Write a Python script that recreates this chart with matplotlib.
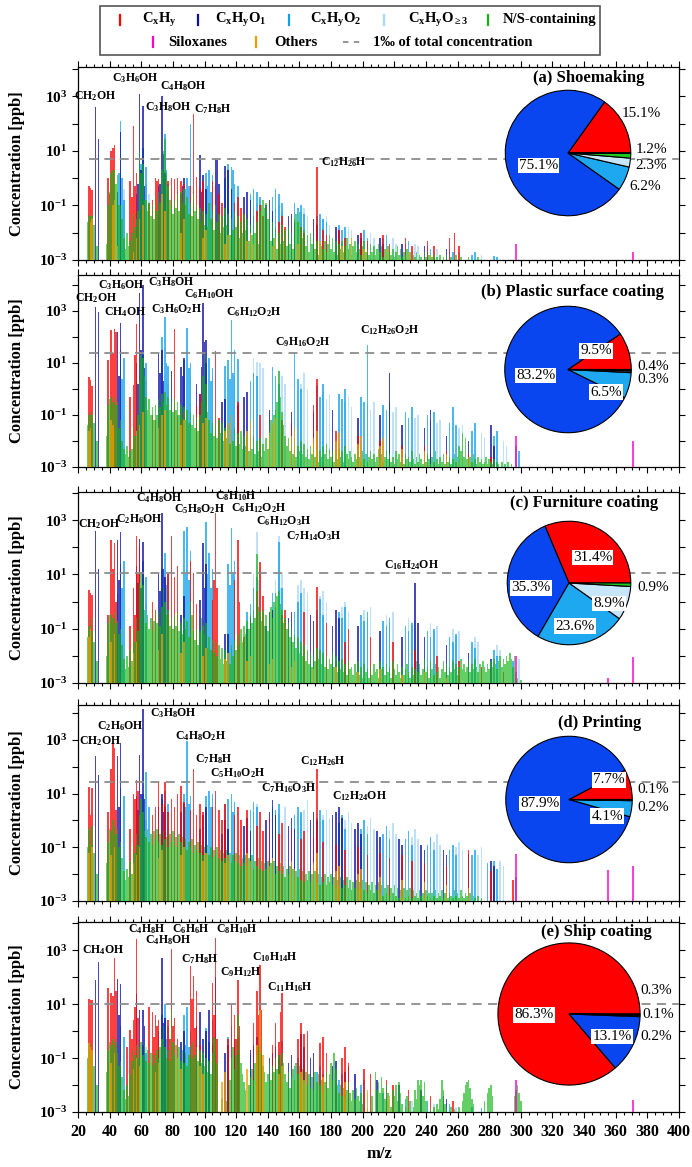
import math
import matplotlib
matplotlib.use("Agg")
import matplotlib.pyplot as plt
from matplotlib.patches import Rectangle
from matplotlib.lines import Line2D
from matplotlib.ticker import FixedLocator, MultipleLocator, NullLocator, FuncFormatter

plt.rcParams["font.family"] = ["Liberation Serif", "DejaVu Serif"]
plt.rcParams["font.weight"] = "bold"
plt.rcParams["mathtext.fontset"] = "custom"
plt.rcParams["mathtext.rm"] = "Liberation Serif:bold"
plt.rcParams["mathtext.it"] = "Liberation Serif:italic:bold"
plt.rcParams["mathtext.bf"] = "Liberation Serif:bold"

# ---------------------------------------------------------------------------
# Data: (m/z, log10 concentration in ppb) per compound class and source.
# N/S-containing ions are listed for every integer m/z starting at NS_START
# (None = no ion at that mass).
# ---------------------------------------------------------------------------
NS_START = 26
SOURCES = ["(a) Shoemaking", "(b) Plastic surface coating", "(c) Furniture coating",
           "(d) Printing", "(e) Ship coating"]
CLASSES = ["CxHy", "CxHyO1", "CxHyO2", "CxHyO>=3", "N/S-containing", "Siloxanes", "Others"]

# (a) Shoemaking
A_CXHY = [(27, -0.3), (28, -0.35), (29, -0.45), (39, 0.0), (40, -0.6), (41, 1.0), (42, 1.1), (43, 1.2),
          (53, -0.1), (54, -0.7), (55, 1.9), (56, -0.3), (57, 0.2), (65, -0.9), (67, -0.8), (69, 0.0),
          (70, -0.1), (71, -0.05), (77, -0.1), (79, 0.0), (81, -0.05), (83, 0.0), (85, -0.1), (87, -0.2),
          (91, -0.3), (93, 2.35), (95, 0.05), (97, -0.4), (99, -0.1), (105, -0.1), (107, -0.3), (109, -0.6),
          (111, -0.9), (119, -0.9), (121, -0.7), (123, -1.1), (125, -1.3), (133, -1.2), (135, -1.0),
          (137, -1.4), (147, -1.6), (149, -1.4), (151, -1.8), (161, -1.8), (163, -2.0), (171, 0.42),
          (175, -1.9), (177, -2.1), (185, -1.9), (189, -2.2), (199, -2.0), (203, -2.3), (213, -2.1),
          (217, -2.4), (227, -2.2), (231, -2.5), (241, -2.3), (245, -2.5), (255, -2.2), (258, -2.0),
          (261, -2.5)]
A_O1 = [(31, 2.6), (33, 1.45), (45, -0.5), (47, 1.7), (57, -0.6), (58, -0.2), (59, 3.07), (60, 0.3),
        (61, 2.64), (62, -0.3), (71, -0.3), (72, -0.2), (73, 3.0), (74, 0.9), (75, 0.2), (85, -0.6),
        (86, -0.3), (87, 0.0), (97, 0.85), (98, -0.5), (99, 0.1), (101, -0.4), (107, 0.7), (108, 0.65),
        (109, -0.2), (113, 0.45), (115, 0.3), (117, -0.4), (125, -0.7), (127, -0.5), (129, -0.8),
        (139, -1.0), (141, -0.8), (143, -1.2), (153, -1.4), (155, -1.3), (157, -1.6), (169, -1.5),
        (171, -1.7), (183, -1.8), (185, -1.9), (197, -2.1), (199, -2.2), (211, -2.2), (213, -2.4),
        (225, -2.4), (239, -2.5), (253, -2.6)]
A_O2 = [(46, 0.2), (47, 2.1), (48, 0.0), (49, -0.8), (60, 0.5), (61, 1.1), (63, 0.4), (74, 0.8), (75, 1.6),
        (76, 0.3), (77, -0.2), (88, -0.4), (89, 0.0), (90, -0.3), (91, 2.0), (101, 0.2), (102, -0.3),
        (103, 0.3), (104, -0.5), (105, 0.1), (113, 0.0), (115, 0.5), (117, 0.4), (118, 0.3), (119, -0.2),
        (121, -0.3), (129, -0.6), (131, -0.4), (133, -0.5), (135, -0.7), (143, -0.7), (145, -0.4),
        (147, -0.6), (149, -0.9), (157, -0.9), (159, -1.1), (161, -1.0), (163, -1.3), (171, -1.4),
        (173, -1.3), (175, -1.5), (177, -1.6), (185, -1.7), (187, -1.9), (189, -1.8), (199, -2.0),
        (201, -1.9), (203, -2.2), (213, -2.2), (215, -2.1), (227, -2.4), (229, -2.3), (241, -2.5),
        (243, -2.6), (255, -2.6), (257, -2.7), (269, -2.8), (271, -2.7), (283, -2.85), (285, -2.9)]
A_O3 = [(49, -0.4), (63, -0.2), (65, -0.6), (77, -0.5), (79, -0.7), (91, -0.7), (93, -0.9), (105, -0.4),
        (107, -0.8), (119, -0.8), (121, -1.0), (131, -0.9), (133, -0.95), (135, -0.8), (145, -1.1),
        (147, -1.0), (149, -1.2), (161, -1.2), (163, -1.1), (165, -1.4), (175, -1.5), (177, -1.4),
        (179, -1.7), (191, -1.8), (193, -1.9), (205, -2.0), (207, -2.2), (219, -2.2), (221, -2.4),
        (233, -2.4), (235, -2.5), (247, -2.6), (261, -2.7), (275, -2.8)]
A_NS = [-1.6, -1.4, -1.3, -1.4, -1.7, None, -2.5, None, None, None,
        None, None, -2.4, -1.0, -0.5, 0.2, 0.3, 0.3, -0.2, 0.1,
        -1.0, -1.0, -1.5, -2.2, -2.6, -2.0, -2.5, -2.3, -2.0, -1.3,
        -1.8, -1.5, -1.2, 1.0, 0.2, 0.5, -0.8, -0.8, -1.2, -0.9,
        -1.4, -1.0, -1.5, -0.7, -1.2, -0.5, -0.9, 0.3, 1.0, 1.45,
        0.2, -0.3, -0.8, -1.0, -1.3, -0.8, -1.1, -0.6, -1.2, -0.5,
        -0.9, -0.4, -1.0, -0.7, -1.3, -0.9, -1.4, -0.6, -1.2, -1.0,
        -1.5, -1.1, -1.6, -1.2, -1.7, -1.3, -1.8, -0.9, -1.5, -1.2,
        -1.9, -1.0, -1.6, -1.3, -2.0, -1.4, -1.8, -1.1, -1.7, -1.3,
        -2.1, -1.5, -1.9, -1.2, -1.8, -1.4, -2.2, -1.6, -2.0, -1.3,
        -1.9, -1.5, -2.3, -1.7, -2.1, -1.4, -2.0, -1.6, -2.4, -1.2,
        -1.0, -0.8, -1.1, -0.9, -1.5, -1.2, -2.3, -1.6, -2.2, -1.8,
        -2.6, -2.0, -2.4, -1.7, -2.3, -1.9, -2.5, -1.8, -2.4, -2.0,
        -2.6, -1.5, -1.3, -1.6, -1.25, -1.8, -2.2, -1.9, -2.5, -2.1,
        -2.7, -2.0, -2.4, -2.2, -2.6, -2.3, -2.8, -2.4, -2.5, -2.6,
        -2.3, -2.7, -2.4, -2.1, -2.6, -2.2, -2.7, -2.3, -2.8, -2.4,
        -2.6, -2.3, -2.7, -2.5, -2.2, -2.6, -2.4, -2.8, -2.5, -2.3,
        -2.7, -2.4, -2.6, -2.8, -2.5, -2.3, -2.7, -2.6, -2.8, -2.4,
        -2.7, -2.5, -2.8, -2.6, -2.4, -2.7, -2.5, -2.9, -2.6, -2.8,
        -2.5, -2.7, -2.8, -2.6, -2.9, -2.7, -2.5, -2.8, -2.6, -2.9,
        -2.7, -2.8, -2.6, -2.9, -2.7, None, -2.8, -2.9, -2.7, None,
        -2.8, -2.9, None, -2.7, -2.9, None, -2.8, None, -2.9, -2.8,
        None, -2.9, None, -2.8, None, -2.9, None, -2.8, None, None,
        -2.9, None, None, -2.8, None, None, -2.9, None, None, None,
        None, -2.9, None, None, None, None, None, -2.9, None, None]
A_OTH = [(28, -1.6), (29, -1.5), (42, -1.0), (43, -0.8), (45, -2.5), (55, -2.7), (57, -2.2), (59, -1.5),
         (61, -1.0), (73, -0.6), (75, -1.2), (85, -2.0), (87, -1.5), (99, -2.2), (101, -1.9), (113, -2.4),
         (115, -2.1), (127, -2.3), (129, -2.0), (131, -2.4), (143, -2.5), (145, -2.2), (159, -2.4),
         (173, -2.3), (187, -2.5), (193, -2.2), (201, -2.6), (215, -2.6), (229, -2.7), (243, -2.8)]
A_SIL = [(297, -2.4), (371, -2.7)]

# (b) Plastic surface coating
B_CXHY = [(27, 0.45), (28, 0.35), (29, 0.1), (39, 1.1), (41, 2.25), (42, 1.4), (43, 2.3), (44, 2.2),
          (53, -0.3), (55, 0.15), (56, 1.3), (57, 2.5), (67, -1.0), (69, -1.2), (71, -1.1), (81, 2.3),
          (83, -1.0), (85, -1.2), (87, -0.9), (95, -0.6), (97, -0.2), (107, 1.45), (109, -1.1),
          (121, -0.5), (135, -1.0), (149, -1.2), (155, -1.3), (169, -0.6), (171, 0.4), (183, -1.6),
          (197, -1.8), (211, -2.0), (225, -2.2), (239, -2.2), (253, -2.4), (267, -2.5), (281, -2.6)]
B_O1 = [(31, 3.15), (33, 2.95), (45, 2.2), (46, 0.5), (47, 2.55), (57, 1.0), (58, 0.2), (59, 3.67),
        (60, 1.5), (61, 3.98), (62, 0.8), (71, 1.4), (72, 0.6), (73, 1.5), (74, 0.3), (79, 0.7),
        (85, 0.85), (86, 0.5), (87, 1.2), (95, 0.2), (97, -0.2), (98, 0.85), (99, 3.3), (100, 1.8),
        (101, 1.9), (111, -0.5), (113, -0.4), (121, -0.6), (125, -0.3), (127, -0.1), (141, -0.8),
        (155, -0.9), (169, -0.9), (181, -0.8), (197, -1.1), (211, -1.0), (217, 0.6), (225, -1.4),
        (239, -1.5), (243, -0.8), (253, -1.8), (267, -2.0), (281, -1.4), (283, -2.2)]
B_O2 = [(47, 1.5), (48, 0.4), (49, 1.2), (61, 1.3), (63, 1.0), (73, 2.0), (75, 2.75), (76, 1.0), (77, 0.9),
        (87, 1.1), (89, 2.35), (90, 0.8), (91, 1.0), (101, 1.0), (103, 1.2), (104, 0.3), (105, 0.8),
        (113, 0.9), (115, 1.1), (116, 0.4), (117, 2.65), (118, 0.6), (119, 1.5), (121, 1.17), (129, 0.3),
        (131, 0.6), (133, 0.5), (143, 0.85), (145, 0.5), (147, 0.2), (157, 1.4), (159, 0.4), (161, 0.0),
        (171, 0.1), (173, -0.3), (175, 0.2), (185, -0.2), (187, -0.4), (189, 0.0), (199, -0.3),
        (201, -0.5), (203, 1.7), (213, -0.6), (215, -0.8), (217, -0.5), (227, -0.9), (229, -1.1),
        (231, -0.7), (241, -1.0), (243, -1.2), (245, -0.9), (255, -1.3), (257, -0.7), (259, -1.4),
        (269, -1.6), (271, -1.3), (283, -1.8), (285, -1.6), (297, -2.2), (299, -2.4)]
B_O3 = [(63, 0.3), (77, 0.2), (91, 0.4), (105, 0.6), (119, 0.5), (131, 1.2), (133, 1.05), (135, 1.0),
        (137, 0.8), (147, 0.7), (149, 0.5), (151, 0.2), (161, 0.2), (163, 0.6), (165, 0.0), (175, -0.1),
        (177, -0.4), (179, -0.2), (189, -0.5), (191, -0.3), (193, -0.7), (203, -0.6), (205, -0.8),
        (207, -0.5), (219, -0.9), (221, -0.7), (233, -1.1), (235, -1.0), (247, -1.3), (249, -1.2),
        (261, -1.5), (263, -1.4), (275, -1.7), (277, -1.9), (289, -2.0), (291, -2.2)]
B_NS = [-1.4, -1.0, -0.9, -1.0, -1.3, None, -2.0, None, None, None,
        None, None, -1.8, -0.6, -0.4, -0.3, -0.5, -0.3, -0.6, -0.5,
        -1.5, -1.2, -2.0, -2.3, -2.5, -2.2, -2.6, -2.4, -2.3, -1.5,
        -1.8, -1.6, -1.0, 0.3, 1.3, 1.2, 0.5, -0.3, -0.8, -0.4,
        -1.0, -0.7, -1.2, -0.6, -1.0, -0.4, -0.7, -0.2, -0.5, -0.1,
        -0.6, -0.3, -0.8, -0.5, -0.9, -0.4, -0.8, -0.5, -1.0, -0.6,
        -1.1, -0.7, -1.2, -0.8, -1.3, -0.9, -1.4, -1.0, -1.5, -1.1,
        -1.6, -1.0, -0.5, 0.5, 1.35, 0.2, -0.9, -1.2, -1.7, -1.3,
        -1.8, -1.4, -1.9, -1.2, -1.7, -1.3, -2.0, -1.5, -1.9, -1.4,
        -2.1, -1.6, -2.0, -1.5, -2.2, -1.7, -2.1, -1.6, -2.3, -1.8,
        -2.2, -1.7, -2.4, -1.9, -2.3, -1.8, -2.5, -2.0, -2.4, -1.9,
        -2.6, -2.1, -2.4, -1.9, -2.3, -1.6, -1.2, -1.4, -1.0, -0.8,
        -0.5, 0.7, -0.3, -0.9, -1.4, -1.8, -2.2, -1.9, -2.4, -2.0,
        -2.5, -2.1, -2.6, -2.2, -2.4, -2.0, -2.5, -2.1, -2.6, -2.3,
        -2.7, -2.2, -2.5, -2.1, -2.6, -2.3, -2.8, -2.4, -2.6, -2.2,
        -2.5, -2.1, -2.7, -2.3, -2.6, -2.4, -2.8, -2.5, -2.7, -2.3,
        -2.6, -2.4, -2.8, -2.2, -2.5, -2.7, -2.4, -2.6, -2.8, -2.5,
        -2.7, -2.3, -2.6, -2.8, -2.4, -2.7, -2.5, -2.8, -2.6, -2.4,
        -2.7, -2.5, -2.8, -2.6, -2.3, -2.7, -2.5, -2.8, -2.6, -2.4,
        -2.7, -2.5, -2.8, -2.6, -2.9, -2.4, -2.7, -2.5, -2.8, -2.6,
        -2.9, -2.5, -2.7, -2.6, -2.8, -2.4, -2.7, -2.9, -2.6, -2.8,
        -2.5, -2.7, -2.9, -2.6, -2.8, -2.5, -2.7, -2.9, -2.6, -2.8,
        -2.4, -2.7, -2.9, -2.6, -2.8, -2.5, -2.9, -2.7, -2.8, -2.6,
        -2.9, -2.7, -2.5, -2.8, -2.6, -2.2, -2.4, -1.7, -2.6, -1.9,
        -2.7, -2.9, -2.6, -2.8, -2.5, -2.7, -2.9, -2.6, -2.8, -2.7,
        -2.9, -2.8, -2.6, -2.9, -2.7, -2.8, -2.9, -2.7, None, -2.8,
        -2.9, None, -2.8, None, -2.9, None, -2.8, None, -2.9, None]
B_OTH = [(27, -1.6), (28, -1.5), (41, -1.2), (42, -1.4), (57, -1.6), (59, -1.4), (61, -0.9), (71, -1.5),
         (73, -1.0), (75, -0.8), (85, -1.4), (87, -1.2), (99, -1.3), (101, -1.1), (113, -1.6), (115, -1.3),
         (117, -1.0), (127, -1.6), (129, -1.2), (141, -1.7), (143, -1.3), (145, -1.1), (155, -1.8),
         (157, -1.5), (169, -1.9), (171, -1.6), (183, -2.0), (185, -1.7), (197, -2.1), (199, -1.8),
         (211, -2.2), (213, -1.9), (225, -2.3), (239, -2.4), (253, -2.5), (267, -2.6)]
B_SIL = [(297, -1.8), (371, -2.0)]

# (c) Furniture coating
C_CXHY = [(27, 0.43), (28, 0.3), (29, 0.25), (39, -0.5), (41, 2.27), (42, 1.2), (43, 2.15), (44, 0.0),
          (53, -0.9), (55, 0.5), (56, -0.5), (57, 2.4), (58, 1.0), (59, 2.05), (67, 0.0), (69, -0.3),
          (71, -0.5), (77, 1.0), (79, 2.4), (81, 0.9), (83, 1.3), (91, 1.5), (93, 1.05), (95, -0.1),
          (105, 0.06), (106, 0.8), (107, 3.25), (108, 0.5), (119, 0.8), (121, 2.27), (122, 0.0),
          (125, -1.3), (133, 0.4), (135, 1.47), (137, 0.2), (149, -0.5), (151, -0.3), (163, -0.4),
          (171, 0.55), (177, -0.8), (189, -1.5), (191, -1.0), (205, -1.3), (219, -1.5), (233, -1.8),
          (247, -2.0), (261, -2.2), (275, -2.4), (289, -2.6)]
C_O1 = [(31, 2.6), (33, 1.2), (45, 2.27), (46, 0.8), (47, 2.55), (57, 1.3), (58, 0.7), (59, 2.3), (60, 0.5),
        (61, 2.2), (71, 1.0), (72, 0.4), (73, 3.25), (74, 1.2), (75, 0.9), (85, -0.5), (87, 0.2),
        (97, 0.06), (99, 2.15), (100, 0.5), (101, 1.4), (113, -1.2), (115, -1.2), (127, -1.0), (129, -0.6),
        (139, -0.9), (141, -0.4), (143, -0.3), (153, -0.6), (155, -0.4), (167, -0.5), (169, -0.7),
        (181, -0.9), (183, -0.3), (185, -0.6), (197, -0.9), (211, -1.1), (225, -1.3), (233, 0.7),
        (235, -0.8), (239, -1.3), (253, -1.6), (267, -1.9), (281, -2.1)]
C_O2 = [(45, 0.3), (47, 1.4), (48, 0.5), (49, 1.5), (59, 0.8), (61, 1.5), (63, 0.9), (73, 1.2), (75, 1.8),
        (76, 0.6), (77, 1.0), (87, 2.6), (88, 1.0), (89, 2.75), (90, 0.8), (91, 1.85), (101, 2.95),
        (102, 1.0), (103, 1.8), (104, 0.5), (105, 1.2), (115, 1.4), (116, 0.6), (117, 2.7), (118, 1.0),
        (119, 1.5), (127, -0.4), (129, -0.1), (131, 0.5), (133, 0.9), (143, 0.3), (145, -0.2), (147, 2.2),
        (149, 0.5), (157, -0.4), (159, 0.0), (161, 0.3), (171, -0.3), (173, 0.1), (175, -0.5), (185, -0.4),
        (187, -0.6), (189, -0.2), (199, -0.5), (201, -0.7), (203, -0.4), (213, -0.7), (215, -0.9),
        (217, -0.6), (227, -0.9), (229, -1.1), (231, -0.8), (241, -1.1), (243, -1.3), (245, -1.0),
        (255, -1.3), (257, -1.5), (259, -1.2), (269, -1.5), (271, -1.7), (283, -1.8), (285, -2.0),
        (295, -2.2)]
C_O3 = [(63, 0.0), (77, 0.3), (91, 0.5), (105, 0.7), (119, 0.9), (131, 1.0), (133, 2.57), (134, 0.8),
        (135, 1.2), (145, 0.8), (147, 2.4), (148, 0.5), (149, 1.0), (159, 0.6), (161, 0.8), (163, 0.5),
        (165, 0.3), (173, 0.2), (175, 0.4), (177, 0.0), (187, -0.2), (189, 0.0), (191, -0.4), (201, -0.3),
        (203, -0.6), (205, -0.2), (215, -0.5), (217, -0.8), (219, -0.4), (229, -0.6), (231, -0.9),
        (233, -0.7), (243, -0.8), (245, -1.1), (247, -0.9), (257, -1.0), (259, -1.3), (261, -1.1),
        (271, -1.3), (273, -1.5), (285, -1.6), (287, -1.8), (299, -2.1)]
C_NS = [-1.3, -0.9, -0.6, -1.1, -1.5, None, -2.2, None, None, None,
        None, None, -2.0, -0.8, -0.5, -0.5, -0.6, -0.4, -0.8, -0.7,
        -1.2, -1.0, -1.6, -2.1, -2.5, -2.0, -2.4, -1.8, -2.2, -1.0,
        -1.5, -0.6, -1.1, 0.7, 1.1, 0.6, -0.3, -0.8, -0.5, -1.0,
        -0.6, -1.1, -0.7, -0.3, -0.8, -0.4, -0.9, -0.2, 0.5, 0.0,
        -0.5, -0.3, -0.9, -0.6, -1.0, -0.5, -0.9, -0.4, -1.1, -0.8,
        -1.2, -0.6, -1.0, -0.7, -1.3, 0.0, -0.5, -1.1, -1.4, -1.0,
        -1.6, -1.1, -0.6, -0.9, -1.2, -0.8, -1.7, -1.3, -1.8, -1.4,
        -1.9, -1.5, -2.0, -1.6, -2.1, -1.7, -2.3, -1.8, -2.2, -1.9,
        -2.3, -1.6, -2.0, -1.4, -1.8, -1.2, -1.6, -1.0, -1.5, -0.9,
        -1.2, -0.7, -1.0, -0.5, -0.8, -0.3, -0.6, 1.77, -0.2, -0.4,
        -0.7, -0.3, -0.9, -0.5, -1.1, -0.4, -0.2, -0.6, 0.0, 0.3,
        0.2, 0.4, -0.1, -0.3, -0.8, -0.6, -1.0, -0.8, -1.3, -1.0,
        -1.5, -1.2, -1.7, -1.3, -1.9, -1.5, -2.0, -1.6, -2.2, -1.8,
        -2.3, -1.9, -2.4, -2.0, -2.2, -1.7, -2.1, -1.8, -2.3, -1.9,
        -2.4, -2.0, -2.5, -2.1, -2.3, -1.9, -2.4, -2.0, -2.6, -2.2,
        -2.5, -2.1, -2.6, -2.3, -2.7, -2.2, -2.5, -2.4, -2.7, -2.3,
        -2.6, -2.2, -2.7, -2.4, -2.8, -2.3, -2.6, -2.5, -2.8, -2.4,
        -2.7, -2.3, -2.6, -2.5, -2.8, -2.2, -2.5, -2.4, -2.7, -2.3,
        -2.6, -2.4, -2.8, -2.2, -2.5, -2.7, -2.3, -2.6, -2.8, -2.4,
        -2.7, -2.5, -2.3, -2.6, -2.8, -2.4, -2.7, -2.5, -2.2, -2.6,
        -2.3, -2.7, -2.5, -2.1, -2.6, -2.4, -2.8, -2.2, -2.5, -2.7,
        -2.3, -2.6, -2.4, -2.8, -2.5, -2.2, -2.6, -2.3, -2.7, -2.4,
        -2.6, -2.2, -2.5, -2.3, -2.7, -2.4, -2.1, -2.5, -2.3, -2.6,
        -2.4, -2.2, -2.6, -2.3, -2.5, -2.1, -2.4, -2.6, -2.3, -2.5,
        -2.2, -2.4, -2.6, -2.3, -2.5, -2.2, -2.4, -2.1, -2.3, -2.5,
        -2.2, -2.0, -2.4, -2.1, -2.3, -2.0, -2.2, -1.9, -2.1, -2.4,
        -2.0, -2.6, -2.8, None, -2.9]
C_OTH = [(27, -1.3), (28, -1.0), (41, -1.5), (43, -1.2), (55, -1.9), (57, -1.5), (71, -1.8), (73, -1.2),
         (85, -1.9), (87, -1.5), (99, -2.0), (101, -1.7), (113, -2.1), (115, -1.9), (127, -2.2), (129, -2.0),
         (141, -2.3), (143, -2.1), (155, -2.4), (157, -2.2), (169, -2.5), (183, -2.4), (197, -2.6),
         (211, -2.5), (225, -2.7), (239, -2.6), (253, -2.8)]
C_SIL = [(297, -2.0), (355, -2.8), (371, -2.05)]

# (d) Printing
D_CXHY = [(27, 1.25), (28, 0.2), (29, 1.2), (39, 0.3), (41, 1.9), (42, 2.9), (43, 2.7), (44, 0.4),
          (53, -0.3), (55, 1.0), (56, 0.8), (57, 1.5), (58, 1.1), (67, 0.2), (69, 0.5), (71, 1.45),
          (73, 0.6), (75, 1.45), (77, 0.3), (79, 0.8), (81, 0.5), (83, 1.0), (85, 1.3), (87, 0.7),
          (91, 0.4), (93, 1.9), (95, 0.2), (97, 0.6), (99, 0.3), (105, 0.5), (107, 1.1), (109, 0.4),
          (111, 0.0), (113, 0.6), (119, 0.2), (121, 0.5), (123, 0.0), (127, 0.4), (133, -0.2), (135, 0.3),
          (137, -0.4), (141, 0.1), (147, -0.5), (149, -0.1), (155, -0.3), (161, -0.7), (163, -0.4),
          (169, -0.6), (171, 1.9), (175, -0.8), (183, -0.9), (189, -1.1), (197, -1.0), (203, -1.3),
          (211, -1.2), (217, -1.4), (225, -1.3), (231, -1.5), (239, -1.6), (253, -1.7), (267, -1.1),
          (281, -1.9), (295, -2.2)]
D_O1 = [(31, 2.4), (33, 1.7), (45, 2.4), (46, 0.5), (47, 2.9), (57, 0.9), (58, 0.4), (59, 2.45), (60, 1.0),
        (61, 4.15), (62, 0.8), (71, 0.5), (73, 1.0), (74, 0.3), (75, 0.5), (85, 0.3), (87, 0.6), (97, -0.3),
        (99, 0.2), (101, 0.5), (111, -0.5), (113, 0.0), (115, -0.3), (125, -0.2), (127, 0.1), (129, -0.4),
        (139, 0.0), (141, 0.3), (143, 0.75), (145, 0.2), (153, -0.2), (155, 0.1), (157, -0.3), (167, 0.0),
        (169, 0.3), (171, 0.0), (181, 0.2), (183, 0.3), (185, 0.5), (187, 0.1), (195, -0.3), (197, -0.1),
        (199, -0.5), (209, -0.4), (211, -0.6), (223, -0.7), (225, -0.9), (237, -0.9), (239, -1.1),
        (251, -1.1), (253, -1.3), (267, -1.25), (281, -1.5), (283, -1.7)]
D_O2 = [(47, 1.2), (49, 0.9), (61, 1.0), (63, 1.8), (65, 0.5), (73, 0.8), (75, 1.1), (77, 0.6), (87, 1.0),
        (88, 0.5), (89, 2.95), (90, 0.6), (91, 0.9), (101, 0.9), (103, 1.1), (104, 0.5), (105, 1.0),
        (113, 0.6), (115, 0.8), (117, 1.0), (118, 0.3), (119, 0.7), (129, 0.4), (131, 0.7), (133, 0.5),
        (143, 0.5), (145, 0.4), (147, 0.6), (157, 0.2), (159, 0.5), (161, 0.3), (171, 0.1), (173, 0.4),
        (175, 0.0), (185, -0.1), (187, 0.2), (189, -0.3), (199, -0.3), (201, 0.0), (203, -0.5), (213, -0.5),
        (215, -0.2), (217, -0.7), (227, -0.7), (229, -0.4), (231, -0.9), (241, -0.9), (243, -0.6),
        (245, -1.1), (255, -1.1), (257, -0.9), (259, -1.3), (269, -1.3), (271, -1.1), (279, -1.6),
        (283, -1.5), (285, -1.8), (297, -2.1)]
D_O3 = [(63, 0.0), (77, 0.3), (91, 0.2), (105, 0.4), (117, 0.3), (119, 0.5), (131, 0.3), (133, 0.6),
        (145, 0.4), (147, 0.2), (151, 0.5), (161, 0.2), (163, 0.4), (165, 0.75), (175, 0.2), (177, 0.4),
        (179, 0.1), (189, 0.0), (191, 0.3), (193, -0.1), (203, -0.2), (205, 0.1), (207, -0.3), (217, -0.4),
        (219, -0.1), (221, -0.5), (231, -0.6), (233, -0.3), (235, -0.7), (245, -0.8), (247, -0.5),
        (249, -0.9), (259, -1.0), (261, -0.8), (263, -1.1), (273, -1.3), (275, -1.0), (287, -1.5),
        (289, -1.7)]
D_NS = [-1.0, -0.3, -0.9, -0.2, -1.2, None, -2.0, None, None, None,
        None, None, -1.6, -0.8, -0.3, -0.4, 0.0, -0.2, -0.5, -0.3,
        -1.0, -0.8, -1.4, -1.9, -2.2, -1.8, -2.1, -1.5, -2.0, -0.9,
        -1.2, -0.5, -0.9, 0.2, 0.8, 0.3, -0.4, -0.6, -0.3, -0.8,
        -0.5, -0.9, -0.4, -0.7, -0.3, -0.8, -0.5, -0.9, -0.4, -0.7,
        -0.6, -1.0, -0.5, -0.8, -0.4, -0.9, -0.6, -1.0, -0.5, -0.8,
        -0.6, -1.0, -0.7, -1.1, -0.8, -1.0, -0.7, -1.2, -0.9, -1.1,
        -0.8, -1.2, -0.9, -1.3, -1.0, -1.2, -0.9, -1.3, -1.0, -1.4,
        -1.1, -1.3, -1.0, -1.4, -1.1, -1.5, -1.2, -1.4, -1.1, -1.5,
        -1.2, -1.6, -1.3, -1.5, -1.2, -1.6, -1.3, -1.7, -1.4, -1.6,
        -1.3, -1.7, -1.4, -1.6, -1.3, -1.8, -1.5, -1.7, -1.4, -1.8,
        -1.5, -1.9, -1.6, -1.8, -1.5, -1.9, -1.6, -1.8, -1.5, -2.0,
        -1.7, -1.9, -1.6, -2.0, -1.7, -2.1, -1.8, -2.0, -1.7, -2.1,
        -1.8, -2.2, -1.9, -2.1, -1.8, -2.2, -1.9, -2.3, -2.0, -2.2,
        -1.9, -2.3, -2.0, -2.2, -1.9, -2.3, -2.0, -2.4, -2.1, -2.3,
        -2.0, -2.4, -2.1, -2.3, -2.0, -2.4, -2.1, -2.5, -2.2, -2.4,
        -2.1, -2.5, -2.2, -2.4, -2.1, -2.5, -2.2, -2.6, -2.3, -2.5,
        -2.2, -2.6, -2.3, -2.5, -2.2, -2.6, -2.3, -2.7, -2.4, -2.6,
        -2.3, -2.7, -2.4, -2.6, -2.3, -2.7, -2.4, -2.8, -2.5, -2.7,
        -2.4, -2.8, -2.5, -2.7, -2.4, -2.8, -2.5, -2.9, -2.6, -2.8,
        -2.5, -2.9, -2.6, -2.8, -2.5, -2.9, -2.6, -2.8, -2.7, -2.9,
        -2.6, -2.8, -2.7, -2.9, -2.6, -2.8, -2.7, -2.9, -2.7, -2.8,
        -2.6, -2.9, -2.7, -2.8, -2.6, -2.9, -2.7, -2.8, -2.9, -2.7,
        -2.8, -2.9, -2.6, -2.8, -2.7, -2.9, -2.6, -2.8, -2.9, -2.7,
        -2.8, -2.9, -2.7, None, -2.8, -2.9, None, -2.8, None, -2.9]
D_OTH = [(27, -1.2), (29, -1.0), (41, -1.3), (43, -1.0), (55, -1.6), (57, -1.3), (59, -1.0), (71, -1.4),
         (73, -1.1), (85, -1.3), (87, -1.0), (99, -1.5), (101, -1.2), (113, -1.6), (115, -1.3), (127, -1.2),
         (129, -1.5), (141, -1.7), (143, -1.4), (155, -1.5), (157, -1.8), (169, -1.6), (171, -1.2),
         (183, -1.9), (185, -1.7), (197, -2.0), (199, -1.8), (211, -2.1), (225, -2.2), (239, -2.3),
         (253, -2.4), (267, -2.5)]
D_SIL = [(297, -1.25), (355, -1.85), (371, -1.7)]

# (e) Ship coating
E_CXHY = [(27, 1.2), (28, 1.15), (29, 1.15), (39, 1.6), (41, 1.4), (42, 1.3), (43, 2.7), (44, 1.5),
          (51, -0.6), (53, 0.05), (54, -0.3), (55, 0.4), (56, 0.9), (57, 3.43), (58, 0.5), (65, 0.9),
          (67, 0.7), (68, -0.2), (69, 0.6), (70, 0.2), (71, 0.4), (77, 0.4), (78, -0.3), (79, 3.06),
          (80, 0.2), (81, 0.5), (83, -0.3), (91, 2.4), (92, 1.2), (93, 2.05), (94, 0.1), (95, 1.5),
          (97, -0.5), (105, 1.77), (106, 0.6), (107, 3.46), (108, -0.3), (115, -0.3), (117, 1.0),
          (119, 0.6), (120, -0.3), (121, 1.9), (122, 0.2), (131, 0.3), (133, 1.5), (134, 0.6), (135, 2.45),
          (136, 0.8), (143, -0.5), (145, 0.3), (147, -0.4), (148, 0.7), (149, 1.4), (159, -0.3), (161, 0.3),
          (163, -0.1), (165, 0.0), (173, -0.45), (175, -0.2), (177, -0.8), (187, -1.0), (189, -0.6),
          (191, -1.2), (201, -1.4), (205, -1.6), (215, -1.8), (219, -2.0), (229, -2.2), (243, -2.4),
          (257, -2.6)]
E_O1 = [(31, 1.9), (33, 2.57), (45, 1.95), (46, 0.6), (47, 1.75), (57, 1.36), (59, 0.8), (61, 0.8),
        (62, 0.2), (71, 0.0), (73, 2.7), (74, 0.3), (75, 0.5), (85, -0.4), (87, 0.0), (95, 0.2), (97, 0.7),
        (99, -0.3), (101, 0.0), (103, 0.8), (105, -0.5), (107, 2.0), (113, -0.8), (115, -0.5), (119, -0.3),
        (121, -0.2), (129, -0.7), (131, -0.5), (133, -0.2), (141, -1.0), (143, -0.8), (145, -0.6),
        (147, -0.9), (153, -1.2), (155, -0.9), (161, -0.1), (163, -0.6), (167, -1.0), (169, -0.8),
        (181, -1.3), (183, -1.1), (189, -1.5), (191, -1.3), (195, -1.6), (209, -1.8), (223, -2.0),
        (237, -2.2), (251, -2.4), (253, -2.5)]
E_O2 = [(47, 0.2), (49, -0.2), (61, -0.5), (63, -0.8), (73, 0.6), (75, 1.0), (76, -0.3), (77, 0.2),
        (87, 0.6), (88, -0.5), (89, 0.9), (90, -0.6), (91, 0.0), (101, 0.1), (103, -0.4), (105, 0.4),
        (115, -0.2), (117, 0.2), (119, -0.6), (129, -0.9), (131, -0.5), (133, -0.7), (135, -0.3),
        (143, -0.9), (145, -0.6), (147, -1.0), (149, -0.35), (157, -1.3), (159, -1.0), (161, -1.2),
        (171, -1.5), (173, -1.3), (175, -1.6), (185, -1.8), (187, -1.6), (199, -2.0), (201, -1.8),
        (213, -2.3), (215, -2.0), (227, -2.5), (241, -2.6), (255, -2.7), (269, -2.8), (275, -2.85)]
E_O3 = [(63, -0.6), (77, -0.3), (91, -0.5), (105, -0.4), (107, -0.9), (119, -0.5), (121, -0.8),
        (133, -0.8), (135, -1.0), (147, -1.2), (149, -1.4), (161, -1.5), (163, -1.3), (175, -1.7),
        (177, -1.9), (189, -2.0), (191, -2.2), (203, -2.3), (217, -2.5), (231, -2.6), (245, -2.7),
        (251, -2.5), (259, -2.8)]
E_NS = [-1.0, -0.5, -0.45, -0.8, -1.3, None, -2.0, None, None, None,
        None, None, -1.5, -0.7, -0.4, -0.5, -0.3, -0.6, -0.4, -0.8,
        -1.3, -1.1, -1.7, -2.2, -2.5, -2.0, -2.4, -1.6, -1.1, -0.7,
        -0.9, -0.5, -1.0, -0.6, -0.4, -0.9, -0.5, -1.1, -0.7, -1.2,
        -0.8, -1.3, -0.9, -1.2, -0.7, -1.0, -0.6, -0.3, 0.2, -0.6,
        -1.0, -0.7, -1.1, 0.8, -0.4, -0.9, -0.5, -1.0, -0.6, -1.1,
        -0.7, -1.2, -0.8, -1.3, -0.9, -0.5, -1.0, -0.4, -0.9, -0.6,
        -1.1, -0.7, -1.2, -0.8, -1.3, -1.0, -1.5, -1.1, -1.6, -0.8,
        -0.2, -0.3, -1.2, None, None, -2.5, None, None, -2.6, None,
        -1.8, -1.0, -0.6, -1.4, -0.9, 0.6, -0.7, -1.2, -1.6, -1.9,
        -2.2, None, -2.0, -1.7, -1.4, -1.8, -1.2, -0.9, -0.6, -0.2,
        -0.8, -1.3, -1.5, -1.9, -1.6, -1.2, -1.8, -1.3, -1.5, -1.0,
        -1.4, -0.9, -1.3, -0.8, -1.2, -1.6, -1.9, -1.5, -2.1, -1.7,
        -1.4, -1.8, -1.2, -1.6, -1.3, -1.7, -1.4, -1.9, -1.5, -2.0,
        -1.6, -2.1, -1.7, -2.2, -1.5, -1.9, -1.6, -2.0, -1.8, -2.3,
        -1.9, -1.5, -2.1, -1.6, -1.2, -1.8, -0.8, -1.4, -2.0, -2.3,
        -2.0, -2.4, -2.1, -2.5, -2.2, -1.9, -2.3, -2.6, -2.2, -2.5,
        -2.1, -2.4, -2.6, -2.3, -2.7, None, None, -2.9, None, None,
        -2.4, None, -1.5, -2.2, -1.9, -2.3, -1.7, -2.1, -2.5, -2.0,
        -2.3, None, -2.8, -2.2, -2.4, -2.0, -2.6, -1.9, -2.3, -2.7,
        None, -2.8, -2.4, -2.9, -2.6, None, -2.8, -2.2, -2.5, -1.8,
        -2.0, -1.8, -2.4, -1.9, -2.6, None, None, -2.9, None, -2.8,
        None, -2.7, -2.9, -2.5, -1.8, -2.2, -2.7, -2.9, None, None,
        -2.8, None, -2.9, None, None, -2.8, None, -2.6, -2.3, -2.0,
        -1.9, -1.8, -2.1, -2.5, -2.7, None, None, None, None, None,
        None, -2.6, None, -2.3, -2.1, -2.0, -2.4, None, None, None,
        None, None, None, None, None, None, None, None, None, None,
        -2.4, -2.2, -2.0, -2.3, -2.6]
E_OTH = [(27, -0.45), (28, -0.6), (29, -0.7), (41, -1.2), (43, -0.8), (55, -1.4), (57, -1.0), (59, -1.3),
         (69, -1.5), (71, -1.2), (83, -1.0), (85, -1.4), (97, -1.3), (99, -1.6), (111, -1.9), (113, -1.5),
         (127, -1.4), (133, -0.5), (135, 0.78), (137, -0.9), (147, -1.6), (149, -1.3), (161, -1.5),
         (163, -1.8), (175, -1.7), (189, -1.9), (203, -2.2), (217, -2.4)]
E_SIL = [(297, -1.8), (371, -2.55)]

# 1 permille of total concentration, log10 ppb
DASH_LEVELS = [0.7, 1.4, 1.04, 1.44, 1.0]

# Class shares (%) in the order CxHy, O1, O2, O>=3, N/S, Siloxanes, Others
PIE_A = [15.1, 75.1, 6.2, 2.3, 1.2, 0.0, 0.1]
PIE_B = [9.5, 83.2, 6.5, 0.4, 0.3, 0.0, 0.1]
PIE_C = [31.4, 35.3, 23.6, 8.9, 0.9, 0.0, 0.0]
PIE_D = [7.7, 87.9, 4.1, 0.1, 0.2, 0.0, 0.0]
PIE_E = [86.3, 13.1, 0.3, 0.1, 0.2, 0.0, 0.0]

# Annotated ions: (formula, m/z of text centre, log10 of text centre)
PEAKS_A = [("CH_2OH", 30.7, 3.0), ("C_3H_6OH", 56, 3.67), ("C_4H_8OH", 86.6, 3.36),
           ("C_3H_8OH", 77, 2.6), ("C_7H_8H", 105, 2.52), ("C_{12}H_{26}H", 188, 0.58)]
PEAKS_B = [("CH_2OH", 31.5, 3.5), ("C_3H_6OH", 47.3, 4.0), ("C_3H_8OH", 79.2, 4.09),
           ("CH_4OH", 49.5, 2.95), ("C_6H_{10}OH", 103, 3.65), ("C_3H_6O_2H", 82.4, 3.07),
           ("C_6H_{12}O_2H", 130.8, 2.97), ("C_9H_{16}O_2H", 162, 1.82), ("C_{12}H_{26}O_2H", 217, 2.27)]
PEAKS_C = [("CH_2OH", 33.5, 2.85), ("C_2H_6OH", 58.7, 3.04), ("C_4H_8OH", 71.5, 3.82),
           ("C_5H_8O_2H", 97, 3.4), ("C_8H_{10}H", 119.5, 3.9), ("C_6H_{12}O_2H", 134, 3.44),
           ("C_6H_{12}O_3H", 150, 2.98), ("C_7H_{14}O_3H", 169, 2.43), ("C_{16}H_{24}OH", 231, 1.35)]
PEAKS_D = [("CH_2OH", 34, 2.94), ("C_2H_6OH", 46.5, 3.52), ("C_3H_8OH", 80, 4.0),
           ("C_4H_8O_2H", 97.7, 3.15), ("C_7H_8H", 106, 2.28), ("C_5H_{10}O_2H", 121, 1.75),
           ("C_7H_{16}O_3H", 153.5, 1.22), ("C_{12}H_{26}H", 175, 2.2), ("C_{12}H_{24}OH", 198, 0.9)]
PEAKS_E = [("CH_4OH", 35.6, 3.0), ("C_4H_8H", 63.4, 3.8), ("C_4H_8OH", 77, 3.37), ("C_6H_6H", 91.2, 3.8),
           ("C_8H_{10}H", 120.3, 3.78), ("C_7H_8H", 97, 2.69), ("C_9H_{12}H", 122.8, 2.2),
           ("C_{10}H_{14}H", 144.5, 2.73), ("C_{11}H_{16}H", 154, 1.63)]

# ---------------------------------------------------------------------------
# Styling and layout (pixel units of a 692 x 1167 canvas)
# ---------------------------------------------------------------------------
W, H = 692, 1167
BAR_COLORS = ["#ff0000", "#0c0ca8", "#0fa0ec", "#a8d8f8", "#14b414", "#ff00cc", "#f09c00"]
PIE_COLORS = ["#ff0000", "#0a46f0", "#1ea8f0", "#c8e6fa", "#1ec81e", "#ff3ccf", "#f5a500"]
BAR_ALPHA = 0.75
NS_ALPHA = 0.65
BASE = 1e-4

AX_LEFT, AX_RIGHT = 78, 679
PANEL_BOUNDS = [(67, 260), (275, 467), (492, 683), (705, 901), (922, 1112)]
Y_TOPS = [4.07, 4.38, 4.04, 4.3, 4.05]
TITLE_POS = [(0.942, 0.943), (0.975, 0.912), (0.965, 0.942), (0.938, 0.908), (0.955, 0.947)]
PIE_GEOM = [(568, 153, 64), (568, 369.5, 64.5), (569, 583, 63), (569, 799.5, 64.5), (569, 1014, 72.5)]
# (class index, dx px, dy px, boxed)
PIE_LABELS = [
    [(0, 75, -40, False), (1, -30, 13, True), (2, 79, 34, False), (3, 85, 13, False), (4, 85, -4, False)],
    [(0, 29, -19, True), (1, -33, 6, True), (2, 39, 23, True), (3, 87, -3, False), (4, 87, 10, False)],
    [(0, 24, -26, True), (1, -39, 5, True), (2, 6, 44, True), (3, 41, 21, True), (4, 86, 5, False)],
    [(0, 41, -20, True), (1, -30, 4, True), (2, 39, 17, True), (3, 86, -10, False), (4, 86, 8, False)],
    [(0, -36, 1, True), (1, 44, 23, True), (2, 89, -24, False), (3, 91, 1, False), (4, 89, 23, False)],
]


def fx(px):
    return px / W


def fy(py):
    return 1.0 - py / H


def draw_pairs(ax, pairs, color, z, alpha=BAR_ALPHA):
    if not pairs:
        return
    mz = [p[0] for p in pairs]
    val = [10.0 ** p[1] for p in pairs]
    ax.bar(mz, [v - BASE for v in val], bottom=BASE, width=1.0, color=color,
           alpha=alpha, linewidth=0, zorder=z)


def draw_dense(ax, values, color, z):
    pairs = [(NS_START + i, v) for i, v in enumerate(values) if v is not None]
    draw_pairs(ax, pairs, color, z, alpha=NS_ALPHA)


def draw_pie(cx, cy, r, shares, layout):
    pax = fig.add_axes([fx(cx - r), fy(cy + r), fx(2 * r), 2 * r / H])
    vals = [v for v in shares if v > 0]
    cols = [PIE_COLORS[i] for i, v in enumerate(shares) if v > 0]
    pax.pie(vals, colors=cols, startangle=0, counterclock=True,
            wedgeprops=dict(edgecolor="black", linewidth=0.8))
    pax.set_xlim(-1.02, 1.02)
    pax.set_ylim(-1.02, 1.02)
    pax.set_aspect("equal")
    pax.axis("off")
    for idx, dx, dy, boxed in layout:
        kw = dict(ha="center", va="center", fontsize=11, fontweight="normal", clip_on=False, zorder=5)
        if boxed:
            kw["bbox"] = dict(boxstyle="square,pad=0.08", fc="white", ec="none")
        pax.text(dx / r, -dy / r, f"{shares[idx]:.1f}%", **kw)


def decade_label(v, pos):
    k = round(math.log10(v))
    return (r"$\mathrm{10^{%d}}$" % k) if k % 2 else ""


fig = plt.figure(figsize=(W / 100, H / 100), dpi=100)

series = [
    (A_CXHY, A_O1, A_O2, A_O3, A_NS, A_SIL, A_OTH, PIE_A, PEAKS_A),
    (B_CXHY, B_O1, B_O2, B_O3, B_NS, B_SIL, B_OTH, PIE_B, PEAKS_B),
    (C_CXHY, C_O1, C_O2, C_O3, C_NS, C_SIL, C_OTH, PIE_C, PEAKS_C),
    (D_CXHY, D_O1, D_O2, D_O3, D_NS, D_SIL, D_OTH, PIE_D, PEAKS_D),
    (E_CXHY, E_O1, E_O2, E_O3, E_NS, E_SIL, E_OTH, PIE_E, PEAKS_E),
]

for i, (cxhy, o1, o2, o3, ns, sil, oth, shares, peaks) in enumerate(series):
    top, bot = PANEL_BOUNDS[i]
    ax = fig.add_axes([fx(AX_LEFT), fy(bot), fx(AX_RIGHT - AX_LEFT), (bot - top) / H])
    ax.set_xlim(20, 400)
    ax.set_yscale("log")
    ax.set_ylim(1e-3, 10 ** Y_TOPS[i])

    draw_pairs(ax, o3, BAR_COLORS[3], 2)
    draw_pairs(ax, o2, BAR_COLORS[2], 3)
    draw_pairs(ax, o1, BAR_COLORS[1], 4)
    draw_pairs(ax, cxhy, BAR_COLORS[0], 5)
    draw_dense(ax, ns, BAR_COLORS[4], 6)
    draw_pairs(ax, oth, BAR_COLORS[6], 7)
    draw_pairs(ax, sil, BAR_COLORS[5], 8)

    ax.hlines(10 ** DASH_LEVELS[i], 27, 400, colors="#8c8c8c", linestyles=(0, (5, 3.5)),
              linewidth=1.3, zorder=9)

    for name, mz, lg in peaks:
        ax.text(mz, 10 ** lg, r"$\mathrm{%s}$" % name, ha="center", va="center",
                fontsize=8.5, zorder=10)

    tx, ty = TITLE_POS[i]
    ax.text(tx, ty, SOURCES[i], transform=ax.transAxes, ha="right", va="center",
            fontsize=12, fontweight="bold", zorder=10)

    ax.xaxis.set_major_locator(MultipleLocator(20))
    ax.xaxis.set_minor_locator(MultipleLocator(5))
    ax.yaxis.set_major_locator(FixedLocator([10.0 ** k for k in range(-3, 5)]))
    ax.yaxis.set_minor_locator(NullLocator())
    ax.yaxis.set_major_formatter(FuncFormatter(decade_label))
    ax.tick_params(which="both", direction="out", top=True, right=True, width=0.8, labelsize=11)
    ax.tick_params(which="major", length=4)
    ax.tick_params(which="minor", length=2.5)
    ax.tick_params(axis="x", labelbottom=(i == len(series) - 1), pad=5, labelsize=11.5)
    for sp in ax.spines.values():
        sp.set_linewidth(0.9)

    fig.text(fx(17), fy((top + bot) / 2), "Concentration [ppb]", rotation=90,
             ha="center", va="center", fontsize=12, fontweight="bold")

    cx, cy, r = PIE_GEOM[i]
    draw_pie(cx, cy, r, shares, PIE_LABELS[i])

fig.text(fx(379), fy(1154), "m/z", ha="center", va="center", fontsize=12, fontweight="bold")

# Legend drawn in canvas pixels
box = Rectangle((fx(100), fy(55)), fx(500), 49 / H, transform=fig.transFigure,
                fill=False, edgecolor="#555555", linewidth=1.2)
fig.patches.append(box)
legend_rows = [
    (20, [(120, 142, 0, r"$\mathrm{C_xH_y}$"), (198, 215, 1, r"$\mathrm{C_xH_yO_1}$"),
          (289, 310, 2, r"$\mathrm{C_xH_yO_2}$"), (384, 408, 3, r"$\mathrm{C_xH_yO_{\geq 3}}$"),
          (488, 503, 4, "N/S-containing")]),
    (42, [(153, 168, 5, "Siloxanes"), (256, 274, 6, "Others")]),
]
for ypx, items in legend_rows:
    for hx, tx_, ci, label in items:
        fig.add_artist(Line2D([fx(hx), fx(hx)], [fy(ypx + 5), fy(ypx - 5)], transform=fig.transFigure,
                              color=BAR_COLORS[ci], linewidth=1.6))
        fig.text(fx(tx_), fy(ypx), label, ha="left", va="center", fontsize=10.5, fontweight="bold")
fig.add_artist(Line2D([fx(343), fx(362)], [fy(42), fy(42)], transform=fig.transFigure,
                      color="#8c8c8c", linewidth=1.3, linestyle=(0, (3, 3))))
fig.text(fx(373), fy(42), "1\u2030 of total concentration", ha="left", va="center",
         fontsize=10.5, fontweight="bold")

fig.savefig("out.png", dpi=100)
